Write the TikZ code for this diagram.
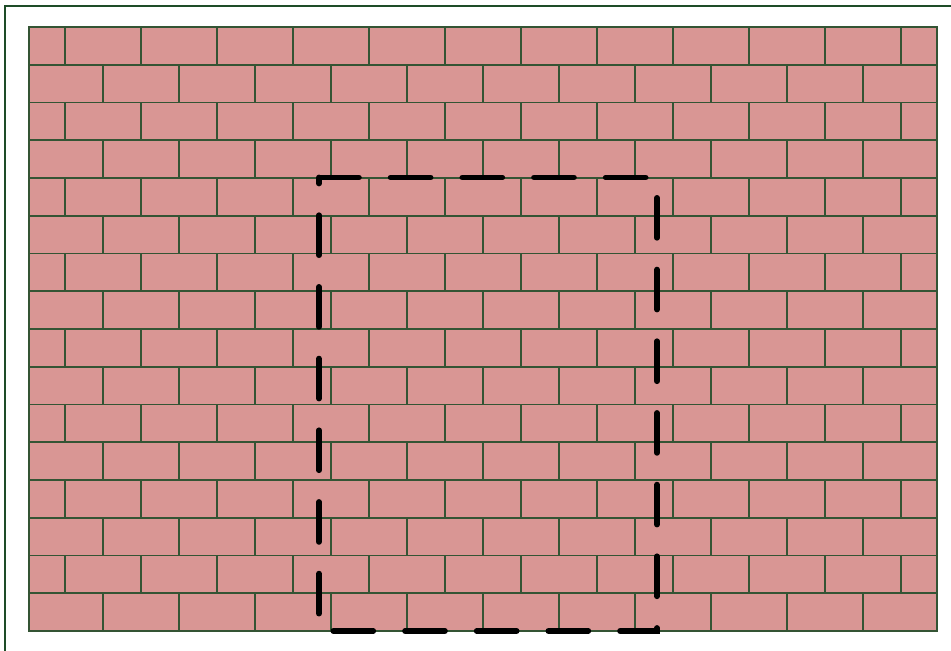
\documentclass[tikz,border=0pt]{standalone}
\usepackage{tikz}
\usepackage{xcolor}
\usetikzlibrary{positioning}
\definecolor{brickRose}{RGB}{217,150,148}
\definecolor{mortarGreen}{RGB}{52,84,52}
\definecolor{frameGreen}{RGB}{30,76,40}

\begin{document}
\begin{tikzpicture}[
  x=0.02cm, y=-0.02cm,
  mortar/.style={draw=mortarGreen,line width=0.95pt},
  frame/.style={draw=frameGreen,line width=1.2pt},
  outline/.style={draw=black,line width=3.3pt,line cap=round,dash pattern=on 22.7pt off 18.1pt}
]
  \useasboundingbox (0,0) rectangle (951,651);
  \clip (0,0) rectangle (951,651);
  \draw[frame] (5,6) rectangle (975,675);

  \coordinate (wallNW) at (28.7,27);
  \coordinate (wallSE) at (936.7,631);
  \fill[brickRose] (wallNW) rectangle (wallSE);

  % bed joints
  \foreach \r in {1,...,15}
    \draw[mortar] (28.7,27+37.75*\r) -- (936.7,27+37.75*\r);
  % head joints, rows alternate by half a brick
  \foreach \r in {0,2,...,14}
    \foreach \k in {0,...,11}
      \draw[mortar] (64.7+76*\k,27+37.75*\r) -- ++(0,37.75);
  \foreach \r in {1,3,...,15}
    \foreach \k in {0,...,10}
      \draw[mortar] (102.7+76*\k,27+37.75*\r) -- ++(0,37.75);
  \draw[mortar] (wallNW) rectangle (wallSE);

  % door opening
  \coordinate (doorNW) at (319,177.5);
  \coordinate (doorNE) at (657,177.5);
  \coordinate (doorSE) at (657,631);
  \coordinate (doorSW) at (319,631);
  \draw[outline] (doorNW) -- (doorNE) -- (doorSE) -- (doorSW) -- cycle;
\end{tikzpicture}
\end{document}
